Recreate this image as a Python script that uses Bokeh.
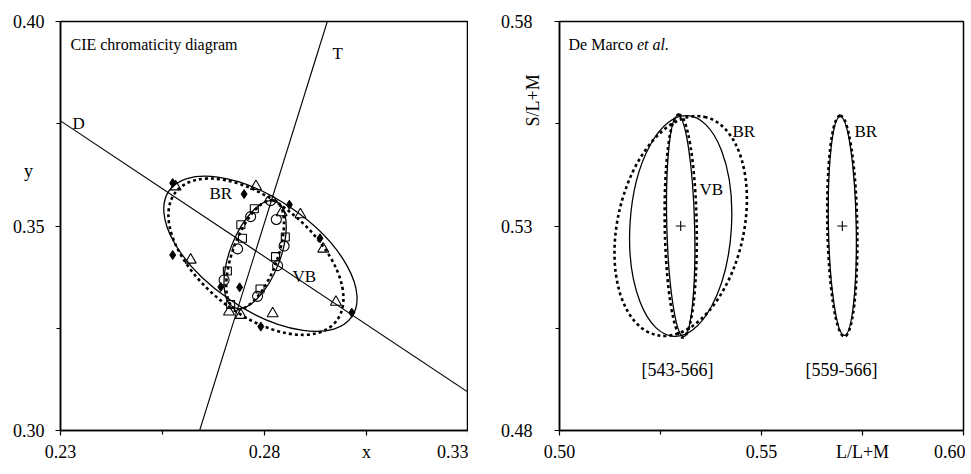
from bokeh.plotting import figure
from bokeh.layouts import row
from bokeh.models import FixedTicker, Label, PrintfTickFormatter, Range1d
from bokeh.embed import file_html
from bokeh.resources import INLINE

FONT = "Liberation Serif"

# ---------------- left panel : CIE chromaticity diagram ----------------
cie_x_ticks = [0.23, 0.28, 0.305, 0.33]      # 0.305 carries the axis name "x"
cie_x_minor = [0.255]
cie_x_names = {0.305: "x"}
cie_y_ticks = [0.30, 0.35, 0.40]
cie_y_minor = [0.325, 0.375]

line_D_x = [0.23, 0.33]
line_D_y = [0.3757, 0.3093]
line_T_x = [0.2641, 0.2954]
line_T_y = [0.30, 0.40]

diamond_x = [0.2575, 0.2750, 0.2861, 0.2936, 0.2575, 0.2693, 0.2739, 0.2791, 0.3014]
diamond_y = [0.3605, 0.3578, 0.3552, 0.3470, 0.3429, 0.3351, 0.3350, 0.3254, 0.3288]
triangle_x = [0.2582, 0.2779, 0.2842, 0.2888, 0.2944, 0.2619, 0.2975, 0.2820, 0.2713, 0.2742]
triangle_y = [0.3596, 0.3597, 0.3533, 0.3528, 0.3444, 0.3417, 0.3314, 0.3286, 0.3290, 0.3282]
square_x = [0.2775, 0.2742, 0.2746, 0.2851, 0.2827, 0.2709, 0.2789, 0.2717]
square_y = [0.3542, 0.3503, 0.3470, 0.3473, 0.3425, 0.3390, 0.3346, 0.3308]
circle_x = [0.2815, 0.2766, 0.2829, 0.2734, 0.2848, 0.2832, 0.2701, 0.2783]
circle_y = [0.3562, 0.3523, 0.3516, 0.3444, 0.3451, 0.3403, 0.3368, 0.3328]

# ellipses (BR, VB): centre, full major axis, full minor axis, angle (deg)
cie_solid_x = [0.2790, 0.2777]
cie_solid_y = [0.3432, 0.3430]
cie_solid_w = [0.0544, 0.0279]
cie_solid_h = [0.0270, 0.0123]
cie_solid_a = [-34.5, 69]
cie_dot_x = [0.2779, 0.2777]
cie_dot_y = [0.3425, 0.3430]
cie_dot_w = [0.0505, 0.0282]
cie_dot_h = [0.0275, 0.0110]
cie_dot_a = [-39, 70]

# ---------------- right panel : De Marco et al. ----------------
dm_x_ticks = [0.50, 0.55, 0.575, 0.60]       # 0.575 carries the axis name
dm_x_minor = [0.525]
dm_x_names = {0.575: "L/L+M"}
dm_y_ticks = [0.48, 0.53, 0.58]
dm_y_minor = [0.505, 0.555]

centre_x = [0.53, 0.57]
centre_y = [0.53, 0.53]
group_labels = ["[543-566]", "[559-566]"]

dm_solid_x = [0.53, 0.53, 0.57]
dm_solid_y = [0.53, 0.53, 0.53]
dm_solid_w = [0.0547, 0.0547, 0.0542]
dm_solid_h = [0.0248, 0.0068, 0.0068]
dm_solid_a = [86.4, 91.5, 91.1]
dm_dot_x = [0.53, 0.53, 0.57]
dm_dot_y = [0.53, 0.53, 0.53]
dm_dot_w = [0.0553, 0.0552, 0.0547]
dm_dot_h = [0.0309, 0.0078, 0.0073]
dm_dot_a = [77.6, 91.0, 91.1]


def make_fig(xr, yr, border_left, border_right, frame_w):
    p = figure(x_range=Range1d(*xr), y_range=Range1d(*yr),
               frame_width=frame_w, frame_height=409,
               min_border_left=border_left, min_border_right=border_right,
               min_border_top=21, min_border_bottom=40,
               output_backend="svg", toolbar_location=None,
               background_fill_color="white", border_fill_color="white")
    p.grid.visible = False
    p.outline_line_color = "black"
    p.outline_line_width = 1.5
    return p


def style_axes(p, xt, xm, names, yt, ym, ystand):
    p.xaxis.ticker = FixedTicker(ticks=xt, minor_ticks=xm)
    p.yaxis.ticker = FixedTicker(ticks=yt, minor_ticks=ym)
    for ax in (p.xaxis[0], p.yaxis[0]):
        ax.formatter = PrintfTickFormatter(format="%.2f")
        ax.axis_line_width = 1.5
        ax.axis_line_color = "black"
        ax.major_tick_line_color = "black"
        ax.minor_tick_line_color = "black"
        ax.major_tick_line_width = 1.2
        ax.minor_tick_line_width = 1.2
        ax.major_tick_out = 5
        ax.major_tick_in = 0
        ax.minor_tick_out = 4
        ax.minor_tick_in = 0
        ax.major_label_text_font = FONT
        ax.major_label_text_font_size = "18px"
        ax.major_label_text_color = "black"
    overrides = {}
    for k, v in names.items():
        overrides[k] = v
        overrides[str(k)] = v
    p.xaxis.major_label_overrides = overrides
    p.xaxis.major_label_standoff = 6
    p.yaxis.major_label_standoff = ystand


def make_label(x, y, text, size="16px", align="left", baseline="alphabetic",
               style="normal", angle=0.0):
    return Label(x=x, y=y, text=text, text_font=FONT, text_font_size=size,
                 text_align=align, text_baseline=baseline, text_color="black",
                 text_font_style=style, angle=angle)


# ---- left figure ----
p1 = make_fig((0.23, 0.33), (0.30, 0.40), 58, 0, 408)
style_axes(p1, cie_x_ticks, cie_x_minor, cie_x_names, cie_y_ticks, cie_y_minor, 11)

p1.line(line_D_x, line_D_y, line_color="black", line_width=1.1)
p1.line(line_T_x, line_T_y, line_color="black", line_width=1.1)

p1.ellipse(x=cie_solid_x, y=cie_solid_y, width=cie_solid_w, height=cie_solid_h,
           angle=cie_solid_a, angle_units="deg", fill_color=None,
           line_color="black", line_width=1.3)
p1.ellipse(x=cie_dot_x, y=cie_dot_y, width=cie_dot_w, height=cie_dot_h,
           angle=cie_dot_a, angle_units="deg", fill_color=None,
           line_color="black", line_width=2.6, line_dash="3 3")

p1.scatter(diamond_x, diamond_y, marker="diamond", size=9,
           fill_color="black", line_color="black")
p1.scatter(triangle_x, triangle_y, marker="triangle", size=11,
           fill_color=None, line_color="black", line_width=1.1)
p1.scatter(square_x, square_y, marker="square", size=8,
           fill_color=None, line_color="black", line_width=1.1)
p1.scatter(circle_x, circle_y, marker="circle", size=10,
           fill_color=None, line_color="black", line_width=1.1)

p1.add_layout(make_label(0.23245, 0.39435, "CIE chromaticity diagram", "16px"))
p1.add_layout(make_label(0.29667, 0.39214, "T", "17px"))
p1.add_layout(make_label(0.23294, 0.37494, "D", "17px"))
p1.add_layout(make_label(0.26652, 0.35799, "BR", "17px"))
p1.add_layout(make_label(0.28686, 0.33759, "VB", "17px"))
# axis name "y" lies outside the frame: keep it in a side panel so it is not clipped
p1.add_layout(make_label(0.22216, 0.36339, "y", "18px", align="center"), "left")

# ---- right figure ----
p2 = make_fig((0.50, 0.60), (0.48, 0.58), 91, 2, 404)
style_axes(p2, dm_x_ticks, dm_x_minor, dm_x_names, dm_y_ticks, dm_y_minor, 22)

p2.ellipse(x=dm_solid_x, y=dm_solid_y, width=dm_solid_w, height=dm_solid_h,
           angle=dm_solid_a, angle_units="deg", fill_color=None,
           line_color="black", line_width=1.3)
p2.ellipse(x=dm_dot_x, y=dm_dot_y, width=dm_dot_w, height=dm_dot_h,
           angle=dm_dot_a, angle_units="deg", fill_color=None,
           line_color="black", line_width=2.6, line_dash="3 3")
p2.scatter(centre_x, centre_y, marker="cross", size=10,
           line_color="black", line_width=1.1)

p2.add_layout(make_label(0.50223, 0.57439, "De Marco ", "16px"))
p2.add_layout(make_label(0.51916, 0.57439, "et al.", "16px", style="italic"))
p2.add_layout(make_label(0.54282, 0.55317, "BR", "17px"))
p2.add_layout(make_label(0.53465, 0.53902, "VB", "17px"))
p2.add_layout(make_label(0.57302, 0.55317, "BR", "17px"))
p2.add_layout(make_label(0.52921, 0.49488, group_labels[0], "18px", align="center"))
p2.add_layout(make_label(0.56980, 0.49488, group_labels[1], "18px", align="center"))
p2.add_layout(make_label(0.49332, 0.56073, "S/L+M", "18px", align="center",
                         baseline="middle", angle=1.5708), "left")

layout = row(p1, p2)
open("out.html", "w").write(file_html(layout, INLINE))
